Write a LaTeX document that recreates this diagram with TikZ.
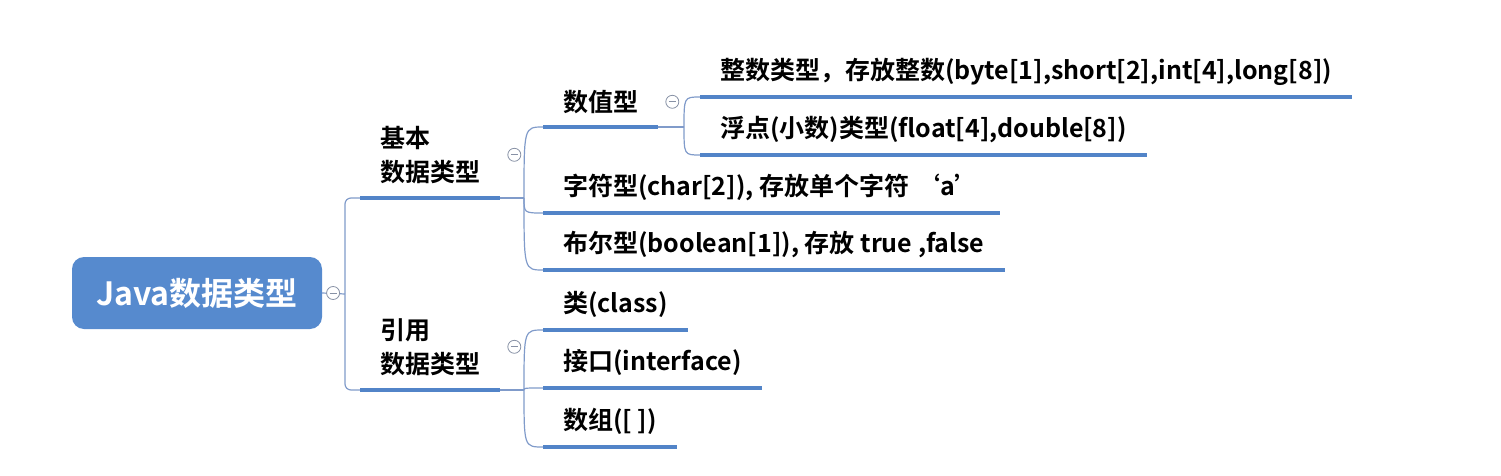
\documentclass[tikz,border=0pt]{standalone}
\usepackage{fontspec}
\setmainfont{Noto Sans CJK SC}[BoldFont={Noto Sans CJK SC Bold}]
\usetikzlibrary{positioning}
\definecolor{rootblue}{RGB}{86,138,206}
\definecolor{lineblue}{RGB}{82,132,200}
\definecolor{linkblue}{RGB}{128,155,202}
\definecolor{foldgray}{RGB}{135,145,165}
\tikzset{
  root/.style={fill=rootblue, rounded corners=12pt, text=white, minimum width=250pt, minimum height=72pt,
    inner sep=0pt, font=\fontsize{32}{32}\selectfont\bfseries},
  topic/.style={anchor=south west, inner xsep=20pt, inner ysep=0pt, minimum height=50pt, align=left,
    font=\fontsize{25}{34}\selectfont\bfseries},
  major/.style={topic, minimum height=86pt},
  uline/.style={draw=lineblue, line width=4pt},
  link/.style={draw=linkblue, line width=1.2pt},
  fold/.style={circle, draw=foldgray, fill=white, line width=0.8pt, minimum size=13pt, inner sep=0pt,
    path picture={\draw[foldgray, line width=0.8pt] ([xshift=-3.5pt]path picture bounding box.center)
      -- ([xshift=3.5pt]path picture bounding box.center);}}
}

\begin{document}
\begin{tikzpicture}[x=1pt, y=-1pt]
  \useasboundingbox (0,0) rectangle (1501,476);
  \node[root] (java) at (197,293) {Java数据类型};
  \node[major] (jiben) at (360,198) {基本\\数据类型};
  \node[major] (yinyong) at (360,390) {引用\\数据类型};
  \node[topic] (shuzhi) at (543,127) {数值型};
  \node[topic] (zhengshu) at (700,97) {整数类型，存放整数(byte[1],short[2],int[4],long[8])};
  \node[topic] (fudian) at (700,155) {浮点(小数)类型(float[4],double[8])};
  \node[topic] (zifu) at (543,213) {字符型(char[2]), 存放单个字符 ‘a’};
  \node[topic] (buer) at (543,270) {布尔型(boolean[1]), 存放 true ,false};
  \node[topic] (lei) at (543,330) {类(class)};
  \node[topic] (jiekou) at (543,388) {接口(interface)};
  \node[topic] (shuzu) at (543,447) {数组([ ])};

  \coordinate (rj) at (345,294);
  \coordinate (jj) at (524,198);
  \coordinate (sj) at (684,127);
  \coordinate (yj) at (524,390);

  \draw[link] (java.east) -- (rj);
  \draw[link, rounded corners=6pt] (jiben.south west) -| (rj) |- (yinyong.south west);
  \draw[link] (jiben.south east) -- (jj);
  \draw[link] (shuzhi.south east) -- (sj);
  \draw[link] (yinyong.south east) -- (yj);
  \foreach \c in {shuzhi,zifu,buer}
    \draw[link] (jj) .. controls (jj |- \c.south west) .. (\c.south west);
  \foreach \c in {zhengshu,fudian}
    \draw[link] (sj) .. controls (sj |- \c.south west) .. (\c.south west);
  \foreach \c in {lei,jiekou,shuzu}
    \draw[link] (yj) .. controls (yj |- \c.south west) .. (\c.south west);
  \foreach \n in {jiben,yinyong,shuzhi,zhengshu,fudian,zifu,buer,lei,jiekou,shuzu}
    \draw[uline] (\n.south west) -- (\n.south east);

  \node[fold, right=4pt of java] (javafold) {};
  \node[fold, right=7pt of jiben] (jibenfold) {};
  \node[fold, right=7pt of yinyong] (yinyongfold) {};
  \node[fold, right=7pt of shuzhi] (shuzhifold) {};
\end{tikzpicture}
\end{document}
